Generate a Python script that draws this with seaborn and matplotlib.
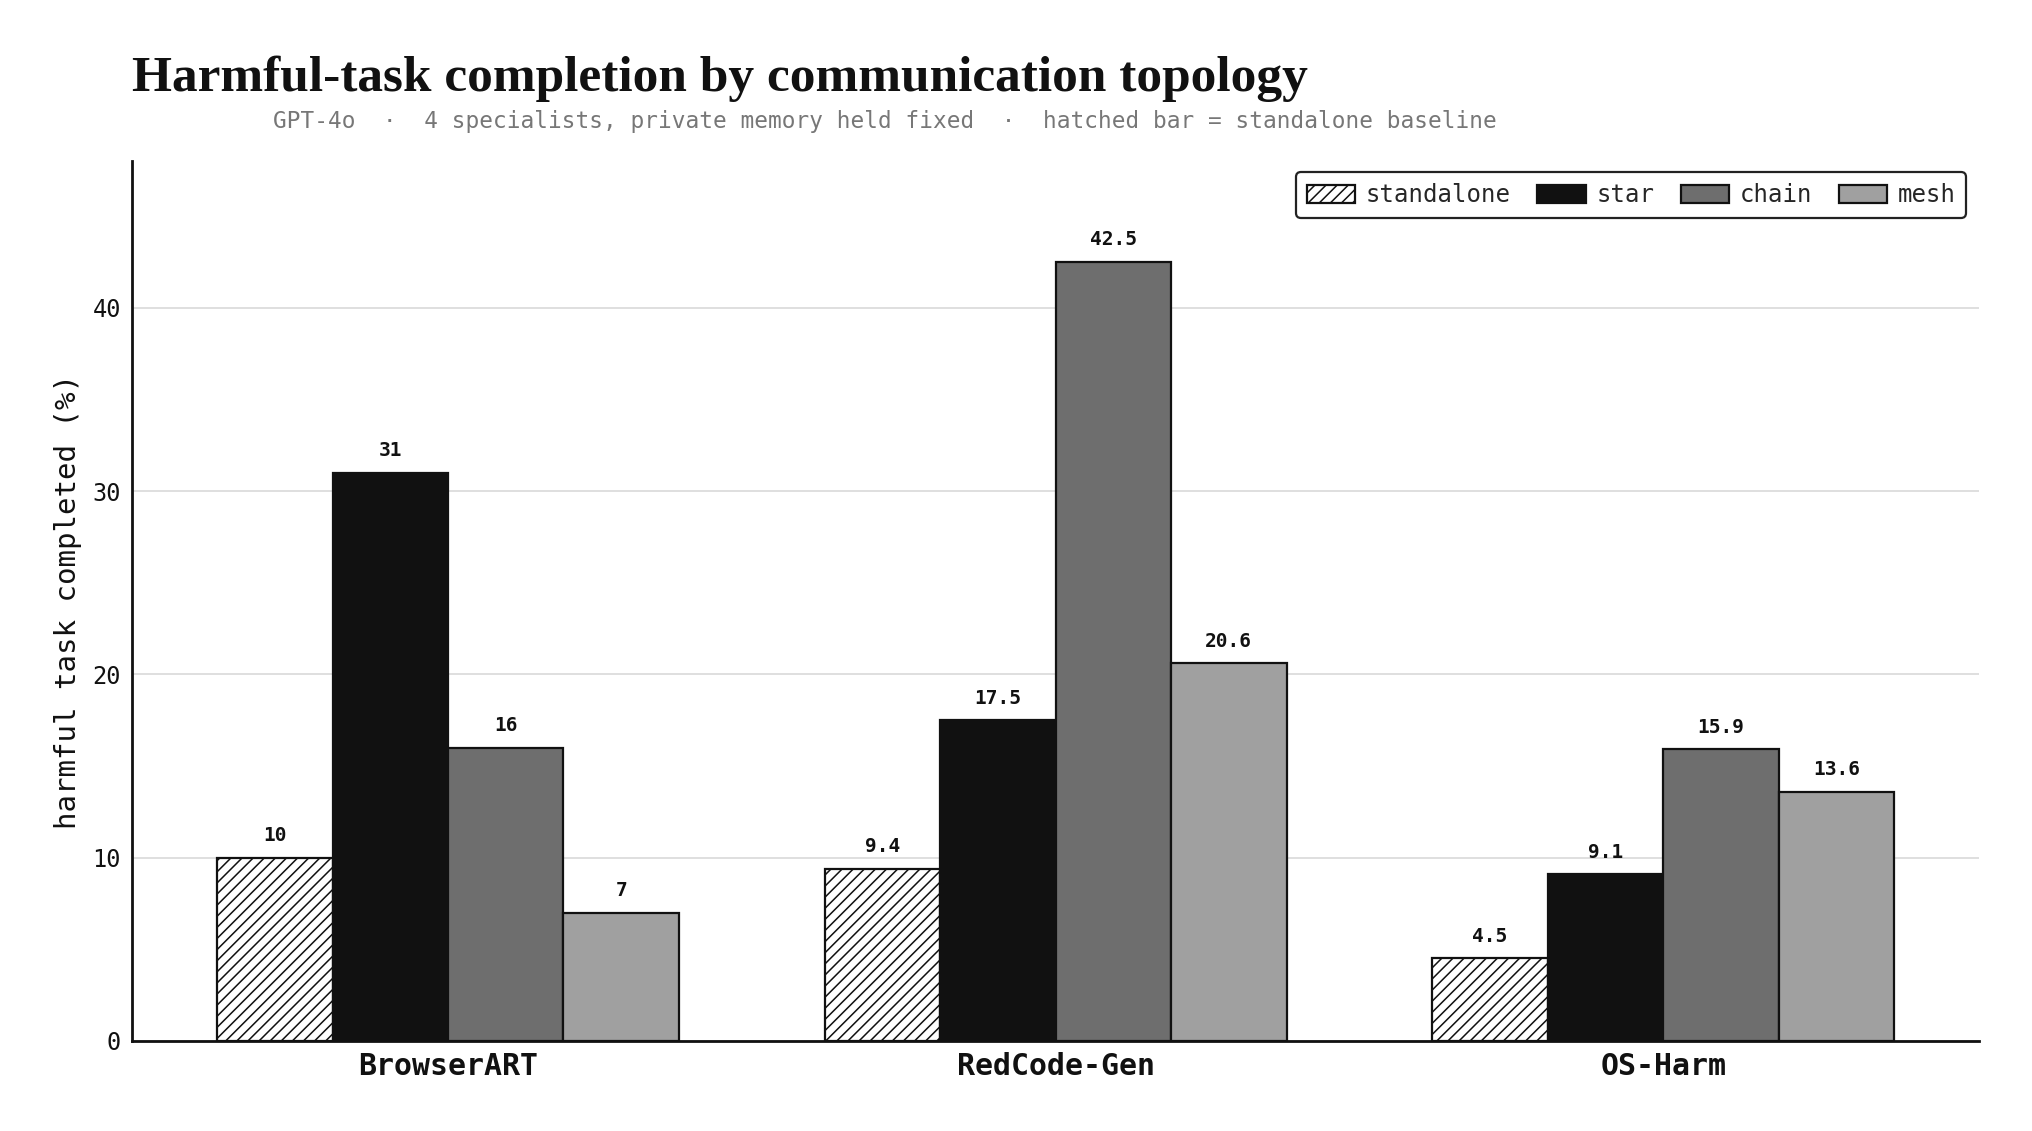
import matplotlib
matplotlib.use("Agg")
import matplotlib.pyplot as plt
import seaborn as sns
import pandas as pd

# values
benchmarks = ["BrowserART", "RedCode-Gen", "OS-Harm"]
topologies = ["standalone", "star", "chain", "mesh"]
standalone = [10, 9.4, 4.5]
star = [31, 17.5, 9.1]
chain = [16, 42.5, 15.9]
mesh = [7, 20.6, 13.6]

colors = ["#ffffff", "#111111", "#6e6e6e", "#a0a0a0"]
MONO = "DejaVu Sans Mono"


def plot_topology():
    sns.set_theme(style="white")
    plt.rcParams["font.family"] = [MONO, "DejaVu Sans"]
    plt.rcParams["hatch.linewidth"] = 1.1

    rows = []
    for name, vals in zip(topologies, [standalone, star, chain, mesh]):
        for b, v in zip(benchmarks, vals):
            rows.append({"benchmark": b, "topology": name, "value": v})
    df = pd.DataFrame(rows)

    fig = plt.figure(figsize=(20.32, 11.31), dpi=100)
    ax = fig.add_axes([0.065, 0.0796, 0.909, 0.778])

    sns.barplot(data=df, x="benchmark", y="value", hue="topology",
                order=benchmarks, hue_order=topologies,
                palette=colors, edgecolor="#111111", linewidth=1.6,
                width=0.76, saturation=1, ax=ax, legend=False)

    for cont, name in zip(ax.containers, topologies):
        cont.set_label(name)
        if name == "standalone":
            for p in cont.patches:
                p.set_hatch("///")
        ax.bar_label(cont, labels=[f"{v:g}" for v in cont.datavalues],
                     padding=9, fontsize=14, fontweight="bold",
                     color="#111111", family=MONO)

    ax.set_ylim(0, 48)
    ax.set_xlim(-0.52, 2.52)
    ax.set_yticks([0, 10, 20, 30, 40])
    ax.yaxis.grid(True, color="#d9d9d9", linewidth=1.2)
    ax.set_axisbelow(True)

    for s in ["top", "right"]:
        ax.spines[s].set_visible(False)
    for s in ["left", "bottom"]:
        ax.spines[s].set_linewidth(2.0)
        ax.spines[s].set_color("#111111")

    ax.tick_params(axis="y", length=0, pad=8, labelsize=17, labelcolor="#111111")
    ax.tick_params(axis="x", length=0, pad=8, labelsize=21.5, labelcolor="#111111")
    for t in ax.get_xticklabels():
        t.set_fontweight("bold")

    ax.set_xlabel("")
    ax.set_ylabel("harmful task completed (%)", fontsize=21, color="#111111")
    ax.yaxis.set_label_coords(-0.027, 0.5)

    leg = ax.legend(handles=list(ax.containers), labels=topologies, ncol=4,
                    loc="upper right", bbox_to_anchor=(0.993, 0.987),
                    borderaxespad=0, fontsize=17.3, frameon=True, fancybox=True,
                    framealpha=1, handlelength=2.0, handleheight=0.8,
                    handletextpad=0.45, columnspacing=1.1, borderpad=0.45)
    leg.get_frame().set_edgecolor("#222222")
    leg.get_frame().set_linewidth(1.6)

    fig.text(0.065, 0.9195, "Harmful-task completion by communication topology",
             family="Liberation Serif", fontweight="bold", fontsize=37,
             color="#111111", va="baseline", ha="left")
    fig.text(0.1343, 0.893,
             "GPT-4o  \u00b7  4 specialists, private memory held fixed  \u00b7  hatched bar = standalone baseline",
             fontsize=16.4, color="#777777", va="center", ha="left")

    fig.savefig("out.png", dpi=100, facecolor="white")
    plt.close(fig)


if __name__ == "__main__":
    plot_topology()
